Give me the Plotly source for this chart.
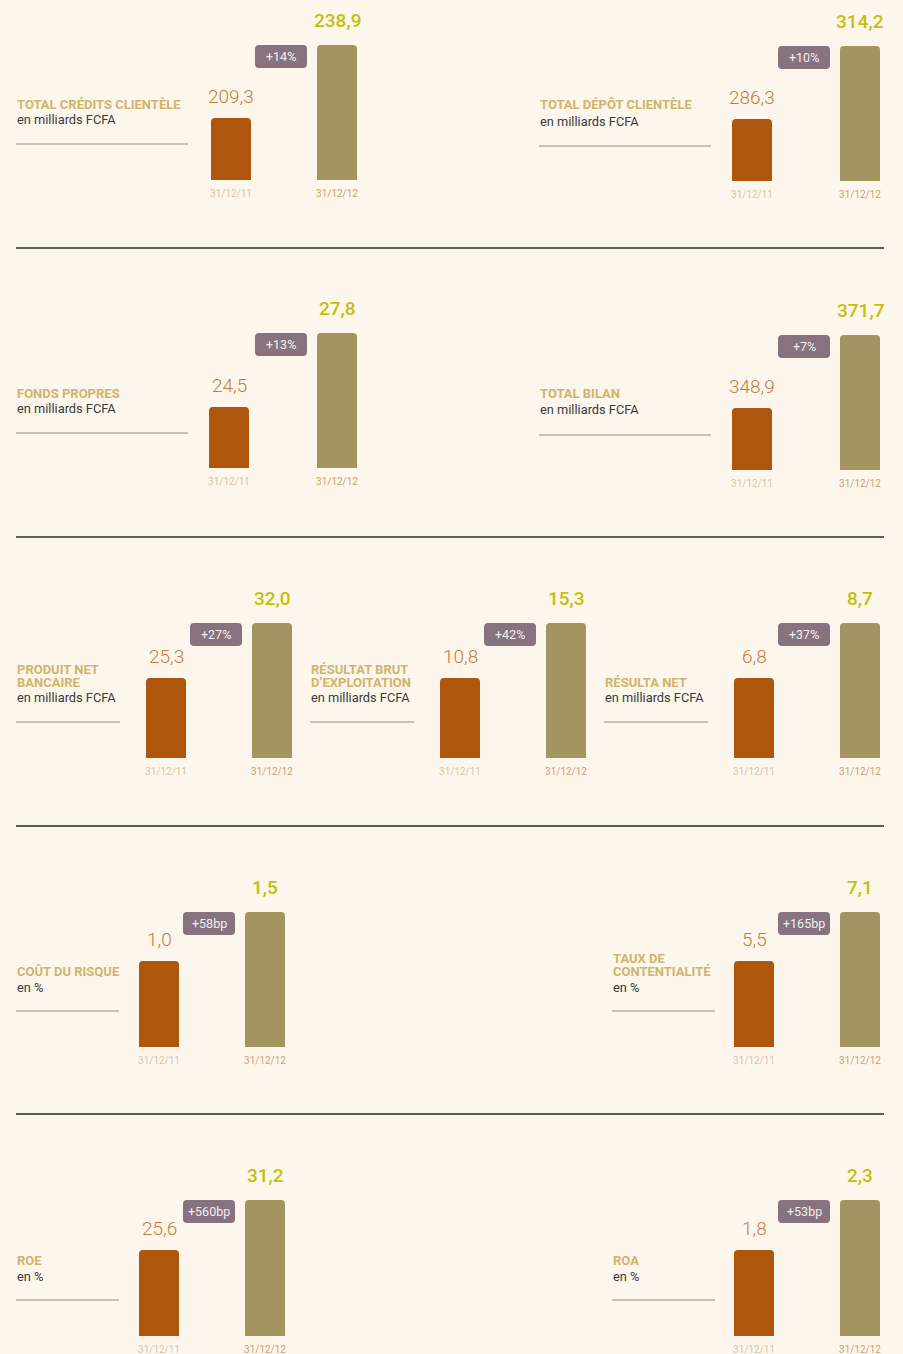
import plotly.graph_objects as go

W, H = 903, 1354

# ---------------- data ----------------
titles = [["TOTAL CRÉDITS CLIENTÈLE"], ["TOTAL DÉPÔT CLIENTÈLE"], ["FONDS PROPRES"],
          ["TOTAL BILAN"], ["PRODUIT NET", "BANCAIRE"], ["RÉSULTAT BRUT", "D’EXPLOITATION"],
          ["RÉSULTA NET"], ["COÛT DU RISQUE"], ["TAUX DE", "CONTENTIALITÉ"], ["ROE"], ["ROA"]]
units = ["en milliards FCFA"] * 7 + ["en %"] * 4
values_2011 = [209.3, 286.3, 24.5, 348.9, 25.3, 10.8, 6.8, 1.0, 5.5, 25.6, 1.8]
values_2012 = [238.9, 314.2, 27.8, 371.7, 32.0, 15.3, 8.7, 1.5, 7.1, 31.2, 2.3]
changes = ["+14%", "+10%", "+13%", "+7%", "+27%", "+42%", "+37%", "+58bp", "+165bp", "+560bp", "+53bp"]
dates = ["31/12/11", "31/12/12"]

# ---------------- layout (pixels) ----------------
# label_x, title line ys, unit y, rule y, rule x end, c1, c2, bar bottom, bar1 top, bar2 top
panels = [
    (17, [104], 120, 144, 188, 231, 337, 180, 118, 45),
    (540, [105], 121, 146, 711, 752, 860, 181, 119, 46),
    (17, [393], 409, 433, 188, 229, 337, 468, 407, 333),
    (540, [394], 410, 435, 711, 752, 860, 470, 408, 335),
    (17, [669, 682], 697, 722, 120, 166, 272, 758, 678, 623),
    (311, [669, 682], 697, 722, 414, 460, 566, 758, 678, 623),
    (605, [682], 697, 722, 708, 754, 860, 758, 678, 623),
    (17, [971], 987, 1011, 119, 159, 265, 1047, 961, 912),
    (613, [958, 971], 987, 1011, 715, 754, 860, 1047, 961, 912),
    (17, [1260], 1276, 1300, 119, 159, 265, 1336, 1250, 1200),
    (613, [1260], 1276, 1300, 715, 754, 860, 1336, 1250, 1200),
]
separators = [248, 537, 826, 1114]

BG = "#fdf6ec"
C_BAR1 = "#ad560c"
C_BAR2 = "#a39560"
C_BADGE = "#87727f"
C_VAL1 = "#c97a3e"
C_VAL2 = "#c6be0a"
C_TITLE = "#d0b46c"
C_UNIT = "#3a3a3a"
C_DATE1 = "#d6c6a8"
C_DATE2 = "#d59c72"
FONT = "Roboto, 'Open Sans', sans-serif"


def px(x):
    return x / W


def py(y):
    return 1 - y / H


def fmt(v):
    return f"{v:.1f}".replace(".", ",")


def rrect(x0, y0, x1, y1, r):
    pts = [
        ("M", [(x0 + r, y0)]), ("L", [(x1 - r, y0)]), ("Q", [(x1, y0), (x1, y0 + r)]),
        ("L", [(x1, y1 - r)]), ("Q", [(x1, y1), (x1 - r, y1)]), ("L", [(x0 + r, y1)]),
        ("Q", [(x0, y1), (x0, y1 - r)]), ("L", [(x0, y0 + r)]), ("Q", [(x0, y0), (x0 + r, y0)]),
    ]
    s = ""
    for cmd, ps in pts:
        s += cmd + " " + " ".join(f"{px(a):.6f},{py(b):.6f}" for a, b in ps) + " "
    return s + "Z"


fig = go.Figure()
annotations = []
shapes = []
layout_axes = {}

for i, (lx, tys, uy, ry, rx1, c1, c2, bot, top1, top2) in enumerate(panels):
    n = i + 1
    sfx = "" if n == 1 else str(n)
    v1, v2 = values_2011[i], values_2012[i]
    s = c2 - c1
    pad = 0.3
    h1, h2 = bot - top1, bot - top2
    k = (h2 - h1) / (v2 - v1)          # pixels per unit
    lo = v1 - h1 / k
    dom_top = top2 - 4
    hi = lo + (bot - dom_top) / k

    fig.add_trace(go.Bar(
        x=[0, 1], y=[v1, v2], width=40 / s,
        marker=dict(color=[C_BAR1, C_BAR2], line=dict(width=0)),
        xaxis="x" + sfx, yaxis="y" + sfx, showlegend=False, hoverinfo="skip",
    ))

    layout_axes["xaxis" + sfx] = dict(
        domain=[px(c1 - pad * s), px(c2 + pad * s)], range=[-pad, 1 + pad],
        anchor="y" + sfx, showgrid=False, zeroline=False, showline=False,
        tickvals=[0, 1],
        ticktext=[f"<span style='color:{C_DATE1}'>{dates[0]}</span>",
                  f"<span style='color:{C_DATE2}'>{dates[1]}</span>"],
        tickfont=dict(family=FONT, size=10, color=C_DATE1),
        ticks="outside", ticklen=4, tickcolor="rgba(0,0,0,0)", fixedrange=True,
    )
    layout_axes["yaxis" + sfx] = dict(
        domain=[py(bot), py(dom_top)], range=[lo, hi], anchor="x" + sfx,
        showgrid=False, zeroline=False, showline=False, showticklabels=False,
        fixedrange=True,
    )

    # value labels
    annotations.append(dict(x=0, y=v1, xref="x" + sfx, yref="y" + sfx, text=fmt(v1),
                            showarrow=False, yanchor="bottom", yshift=8,
                            font=dict(family=FONT, size=19, color=C_VAL1, weight=300)))
    annotations.append(dict(x=1, y=v2, xref="x" + sfx, yref="y" + sfx, text=fmt(v2),
                            showarrow=False, yanchor="bottom", yshift=11,
                            font=dict(family=FONT, size=19, color=C_VAL2, weight=500)))

    # change badge
    bx1 = c2 - 20 - 10
    bx0 = bx1 - 52
    shapes.append(dict(type="path", path=rrect(bx0, top2, bx1, top2 + 23, 4),
                       xref="paper", yref="paper", fillcolor=C_BADGE, line=dict(width=0),
                       layer="above"))
    annotations.append(dict(x=px((bx0 + bx1) / 2), y=py(top2 + 11.5), xref="paper", yref="paper",
                            text=changes[i], showarrow=False, xanchor="center", yanchor="middle",
                            font=dict(family=FONT, size=12.5, color="#f4eef2")))

    # titles
    for line, ty in zip(titles[i], tys):
        annotations.append(dict(x=px(lx - 2), y=py(ty), xref="paper", yref="paper", text=f"<b>{line}</b>",
                                showarrow=False, xanchor="left", yanchor="middle",
                                font=dict(family=FONT, size=13, color=C_TITLE)))
    annotations.append(dict(x=px(lx - 2), y=py(uy), xref="paper", yref="paper", text=units[i],
                            showarrow=False, xanchor="left", yanchor="middle",
                            font=dict(family=FONT, size=12.8, color=C_UNIT)))
    shapes.append(dict(type="line", x0=px(lx - 1), x1=px(rx1), y0=py(ry), y1=py(ry),
                       xref="paper", yref="paper", line=dict(color="#c4c1bc", width=2)))

for sy in separators:
    shapes.append(dict(type="line", x0=px(16), x1=px(884), y0=py(sy), y1=py(sy),
                       xref="paper", yref="paper", line=dict(color="#2a2a2a", width=1.5)))

fig.update_layout(
    width=W, height=H, margin=dict(l=0, r=0, t=0, b=0),
    paper_bgcolor=BG, plot_bgcolor="rgba(0,0,0,0)",
    barcornerradius=4, annotations=annotations, shapes=shapes,
    font=dict(family=FONT), **layout_axes,
)

fig.write_html("out.html", config={"displayModeBar": False},
               post_script="document.body.style.margin='0';document.body.style.background='" + BG + "';")
